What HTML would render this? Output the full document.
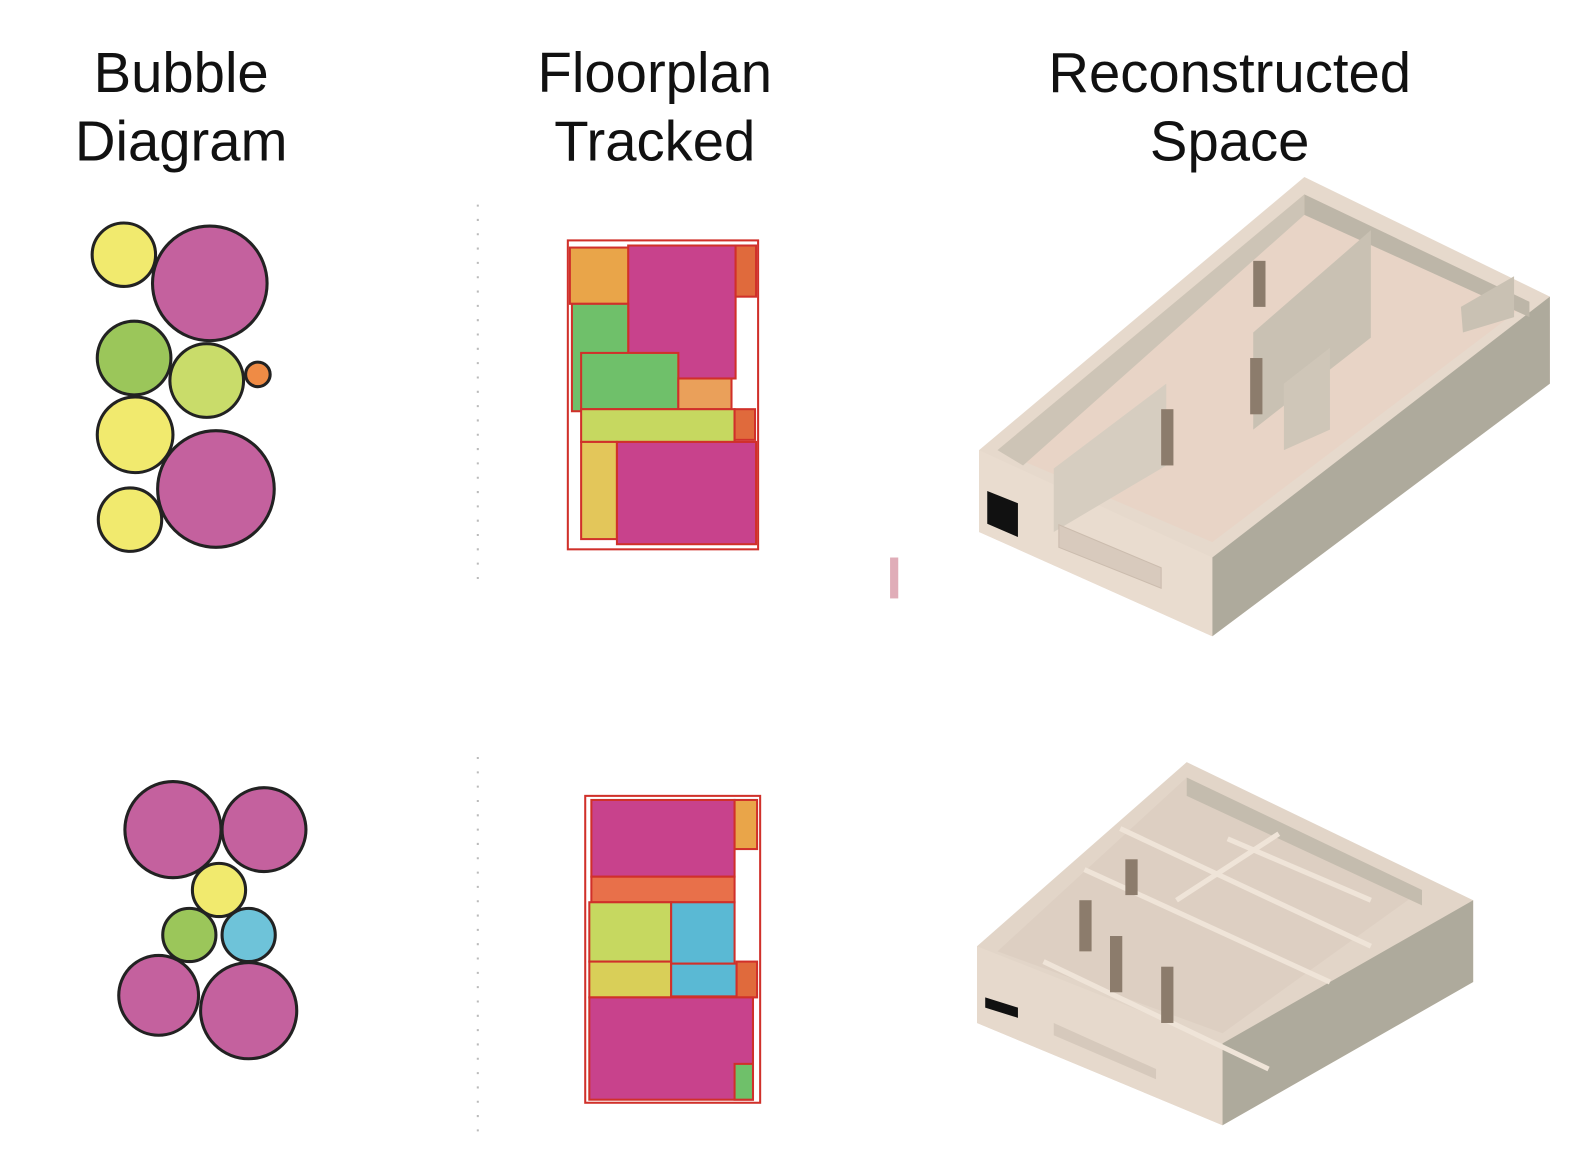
<!DOCTYPE html>
<html><head><meta charset="utf-8"><style>
html,body{margin:0;padding:0;background:#fff;}
svg{display:block;}
text{font-family:"Liberation Sans",Arial,sans-serif;font-size:55px;fill:#111;text-anchor:middle;}
</style></head><body>
<svg width="1596" height="1158" viewBox="0 0 1560 1132" xmlns="http://www.w3.org/2000/svg">
<rect width="1560" height="1132" fill="#fff"/>
<text x="177" y="90">Bubble</text><text x="177" y="157">Diagram</text>
<text x="640" y="90">Floorplan</text><text x="640" y="157">Tracked</text>
<text x="1202" y="90">Reconstructed</text><text x="1202" y="157">Space</text>

<line x1="467" y1="200" x2="467" y2="570" stroke="#bbb" stroke-width="2" stroke-dasharray="2 12"/>
<line x1="467" y1="740" x2="467" y2="1110" stroke="#bbb" stroke-width="2" stroke-dasharray="2 12"/>
<rect x="870" y="545" width="8" height="40" fill="#c78" opacity=".6"/>

<g stroke="#222" stroke-width="3">
<circle cx="121" cy="249" r="31" fill="#f1ea6e"/>
<circle cx="205" cy="277" r="56" fill="#c4619e"/>
<circle cx="131" cy="350" r="36" fill="#9bc65a"/>
<circle cx="202" cy="372" r="36" fill="#c9dc6a"/>
<circle cx="252" cy="366" r="12" fill="#ef8b45"/>
<circle cx="132" cy="425" r="37" fill="#f1ea6e"/>
<circle cx="211" cy="478" r="57" fill="#c4619e"/>
<circle cx="127" cy="508" r="31" fill="#f1ea6e"/>

<circle cx="169" cy="811" r="47" fill="#c4619e"/>
<circle cx="258" cy="811" r="41" fill="#c4619e"/>
<circle cx="214" cy="870" r="26" fill="#f1ea6e"/>
<circle cx="185" cy="914" r="26" fill="#9bc65a"/>
<circle cx="243" cy="914" r="26" fill="#6ec3d9"/>
<circle cx="155" cy="973" r="39" fill="#c4619e"/>
<circle cx="243" cy="988" r="47" fill="#c4619e"/>
</g>

<!-- floorplan top -->
<g stroke="#d0302a" stroke-width="2">
<rect x="555" y="235" width="186" height="302" fill="#fff"/>
<rect x="557" y="242" width="58" height="55" fill="#e9a549"/>
<rect x="614" y="240" width="105" height="130" fill="#c8428c"/>
<rect x="719" y="240" width="20" height="50" fill="#e06a3c"/>
<rect x="559" y="297" width="55" height="105" fill="#6fc06a"/>
<rect x="568" y="345" width="95" height="55" fill="#6fc06a"/>
<rect x="663" y="370" width="52" height="30" fill="#eaa05a"/>
<rect x="568" y="400" width="150" height="32" fill="#c6d860"/>
<rect x="718" y="400" width="20" height="30" fill="#e06a3c"/>
<rect x="568" y="432" width="35" height="95" fill="#e3c65a"/>
<rect x="603" y="432" width="136" height="100" fill="#c8428c"/>
</g>
<!-- floorplan bottom -->
<g stroke="#d0302a" stroke-width="2">
<rect x="572" y="778" width="171" height="300" fill="#fff"/>
<rect x="578" y="782" width="140" height="75" fill="#c8428c"/>
<rect x="718" y="782" width="22" height="48" fill="#e9a549"/>
<rect x="578" y="857" width="140" height="25" fill="#e8704a"/>
<rect x="576" y="882" width="80" height="58" fill="#c6d860"/>
<rect x="656" y="882" width="62" height="60" fill="#5ab9d4"/>
<rect x="576" y="940" width="80" height="35" fill="#d9cf58"/>
<rect x="656" y="942" width="64" height="32" fill="#5ab9d4"/>
<rect x="720" y="940" width="20" height="35" fill="#e06a3c"/>
<rect x="576" y="975" width="160" height="100" fill="#c8428c"/>
<rect x="718" y="1040" width="18" height="35" fill="#6fc06a"/>
</g>

<!-- top 3D box -->
<polygon points="957,440 1275,173 1515,290 1515,375 1185,622 957,520" fill="#e6d9cc"/>
<polygon points="1185,545 1515,290 1515,375 1185,622" fill="#aeaa9c"/>
<polygon points="957,440 1185,545 1185,622 957,520" fill="#e9dccf"/>
<polygon points="975,440 1275,190 1495,295 1185,530" fill="#e8d4c6"/>
<polygon points="975,440 1275,190 1275,210 1000,455" fill="#cdc4b6"/>
<polygon points="1275,190 1495,295 1495,310 1275,210" fill="#bdb6a8"/>
<polygon points="1225,325 1340,225 1340,330 1225,420" fill="#c9c1b3"/>
<polygon points="1030,458 1140,375 1140,455 1030,520" fill="#d6cdc0"/>
<polygon points="1255,375 1300,340 1300,420 1255,440" fill="#cfc6b8"/>
<polygon points="1428,300 1480,270 1480,310 1430,325" fill="#c9c1b3"/>
<rect x="1225" y="255" width="12" height="45" fill="#8c7c6c"/>
<rect x="1222" y="350" width="12" height="55" fill="#8c7c6c"/>
<rect x="1135" y="400" width="12" height="55" fill="#8c7c6c"/>
<polygon points="965,480 995,492 995,525 965,512" fill="#111"/>
<polygon points="1035,513 1135,555 1135,575 1035,535" fill="#d8cabd" stroke="#cbbcae"/>

<!-- bottom 3D box -->
<polygon points="955,925 1160,745 1440,880 1440,960 1195,1100 955,1000" fill="#e2d5c8"/>
<polygon points="1195,1020 1440,880 1440,960 1195,1100" fill="#aeaa9c"/>
<polygon points="955,925 1195,1020 1195,1100 955,1000" fill="#e6d9cc"/>
<polygon points="975,930 1160,760 1390,870 1195,1010" fill="#ddcfc2"/>
<polygon points="1160,760 1390,870 1390,885 1160,778" fill="#c4bcae"/>
<g stroke="#efe4d8" stroke-width="5">
<line x1="1095" y1="810" x2="1340" y2="925"/>
<line x1="1060" y1="850" x2="1300" y2="960"/>
<line x1="1020" y1="940" x2="1240" y2="1045"/>
<line x1="1150" y1="880" x2="1250" y2="815"/>
<line x1="1200" y1="820" x2="1340" y2="880"/>
</g>
<rect x="1100" y="840" width="12" height="35" fill="#8c7c6c"/>
<rect x="1085" y="915" width="12" height="55" fill="#8c7c6c"/>
<rect x="1135" y="945" width="12" height="55" fill="#8c7c6c"/>
<rect x="1055" y="880" width="12" height="50" fill="#8c7c6c"/>
<polygon points="963,975 995,985 995,995 963,985" fill="#111"/>
<polygon points="1030,1000 1130,1045 1130,1055 1030,1012" fill="#d6c9bc"/>
</svg>
</body></html>
